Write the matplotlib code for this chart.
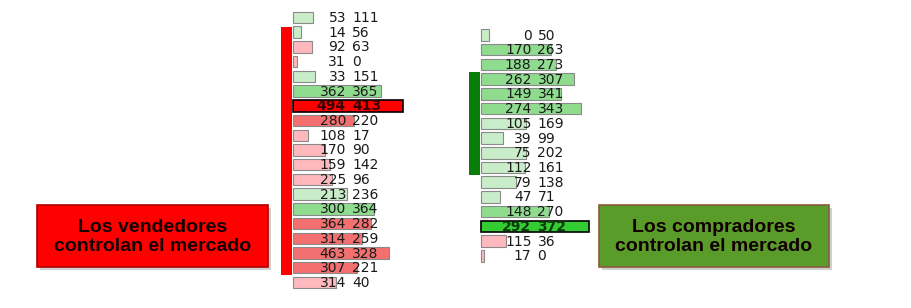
import matplotlib
matplotlib.use('Agg')
import matplotlib.pyplot as plt
from matplotlib.patches import Rectangle

# left footprint column (bid, ask) from top to bottom
left_bid = [53, 14, 92, 31, 33, 362, 494, 280, 108, 170, 159, 225, 213, 300, 364, 314, 463, 307, 314]
left_ask = [111, 56, 63, 0, 151, 365, 413, 220, 17, 90, 142, 96, 236, 364, 282, 259, 328, 221, 40]

# right footprint column
right_bid = [0, 170, 188, 262, 149, 274, 105, 39, 75, 112, 79, 47, 148, 292, 115, 17]
right_ask = [50, 263, 273, 307, 341, 343, 169, 99, 202, 161, 138, 71, 270, 372, 36, 0]

left_label = 'Los vendedores\ncontrolan el mercado'
right_label = 'Los compradores\ncontrolan el mercado'

GREEN = ['#c9ecc9', '#8fdc8f', '#33cc33']
RED = ['#ffb8bd', '#f47070', '#ff0000']
ROW = 14.72


def rowColor(bid, ask, total, biggest):
    shades = GREEN if ask > bid else RED
    if total == biggest:
        return shades[2], '#000000'
    if total > 0.5 * biggest:
        return shades[1], '#8a8a8a'
    return shades[0], '#8a8a8a'


def drawColumn(ax, bids, asks, x0, y0, maxLen, gap):
    totals = [b + a for b, a in zip(bids, asks)]
    biggest = max(totals)
    ys = [y0 + i * ROW for i in range(len(bids))]
    widths = [t / biggest * maxLen for t in totals]
    for y, w, b, a, t in zip(ys, widths, bids, asks, totals):
        face, edge = rowColor(b, a, t, biggest)
        lw = 1.2 if t == biggest else 0.8
        ax.barh(y, w, height=11.5, left=x0, color=face, edgecolor=edge, linewidth=lw, zorder=2)
        weight = 'bold' if t == biggest else 'normal'
        tc = '#3a0000' if (t == biggest and a < b) else ('#0a3a0a' if t == biggest else '#1a1a1a')
        ax.text(gap - 3, y + 0.5, str(b), ha='right', va='center', fontsize=10,
                color=tc, fontweight=weight, zorder=3)
        ax.text(gap + 3, y + 0.5, str(a), ha='left', va='center', fontsize=10,
                color=tc, fontweight=weight, zorder=3)
    return ys


def drawBox(ax, x, y, w, h, face, edge, label):
    ax.add_patch(Rectangle((x + 3, y + 3), w, h, facecolor='#b0b0b0', edgecolor='none', alpha=0.6, zorder=1))
    ax.add_patch(Rectangle((x, y), w, h, facecolor=face, edgecolor=edge, linewidth=1.2, zorder=2))
    ax.text(x + w / 2, y + h / 2 + 1, label, ha='center', va='center', fontsize=14,
            fontweight='bold', family='Liberation Sans', color='#120000',
            linespacing=1.1, zorder=3)


fig = plt.figure(figsize=(9.12, 3.08), dpi=100)
ax = fig.add_axes([0, 0, 1, 1])
ax.set_xlim(0, 912)
ax.set_ylim(308, 0)
ax.axis('off')

ly = drawColumn(ax, left_bid, left_ask, 293, 17.5, 110, 349)
ry = drawColumn(ax, right_bid, right_ask, 481, 35, 108, 534.5)

# control markers
ax.bar(287, ly[17] - ly[1] + 13, bottom=ly[1] - 5.5, width=11, color='#ff0000', zorder=2)
ax.bar(474.5, ry[9] - ry[3] + 14.5, bottom=ry[3] - 7, width=11, color='#087d08', zorder=2)

drawBox(ax, 37, 205, 231, 62, '#ff0000', '#b00000', left_label)
drawBox(ax, 599, 205, 230, 62, '#5a9c2a', '#8a5a3a', right_label)

fig.savefig('out.png', dpi=100)
